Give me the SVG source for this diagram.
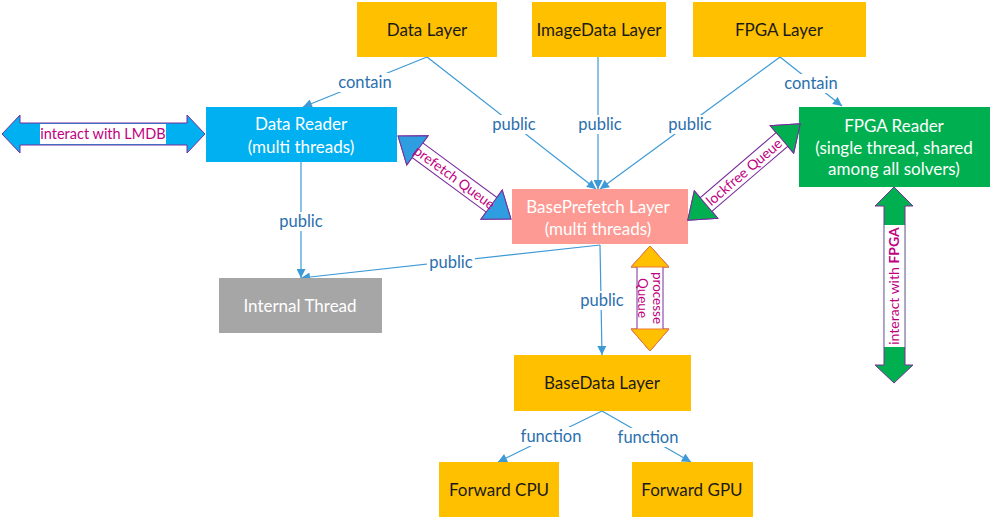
<svg xmlns="http://www.w3.org/2000/svg" width="993" height="519" viewBox="0 0 993 519">
<style>
text{font-family:Lato,"Open Sans","Liberation Sans",sans-serif}
.bt{font-size:17px;text-anchor:middle}
.dk{fill:#1a1a1a}
.wt{fill:#ffffff}
.lbl{font-size:16.5px;fill:#2a6fae;text-anchor:middle}
.lbg{fill:#ffffff}
.cn{stroke:#3d9ad6;stroke-width:1.2;fill:none}
.ba{font-size:14px;fill:#c00080;text-anchor:middle}
.sh{fill:#ffffff;stroke:#7a2d9c;stroke-width:1}
</style>
<defs>
<marker id="ah" viewBox="0 0 10 10" refX="10" refY="5" markerWidth="10" markerHeight="9" markerUnits="userSpaceOnUse" orient="auto"><path d="M0,0 L10,5 L0,10 z" fill="#3d9ad6"/></marker>
</defs>
<rect width="993" height="519" fill="#ffffff"/>

<g id="connectors">
<line class="cn" x1="427" y1="57" x2="303" y2="107" marker-end="url(#ah)"/>
<line class="cn" x1="427" y1="57" x2="596" y2="189" marker-end="url(#ah)"/>
<line class="cn" x1="598" y1="57" x2="598" y2="189" marker-end="url(#ah)"/>
<line class="cn" x1="780" y1="57" x2="600" y2="189" marker-end="url(#ah)"/>
<line class="cn" x1="780" y1="57" x2="842" y2="106" marker-end="url(#ah)"/>
<line class="cn" x1="301" y1="162" x2="301" y2="278" marker-end="url(#ah)"/>
<line class="cn" x1="600" y1="245" x2="301" y2="278" marker-end="url(#ah)"/>
<line class="cn" x1="600" y1="245" x2="602" y2="355" marker-end="url(#ah)"/>
<line class="cn" x1="602" y1="411" x2="498" y2="462" marker-end="url(#ah)"/>
<line class="cn" x1="602" y1="411" x2="691" y2="462" marker-end="url(#ah)"/>
<rect class="lbg" x="336" y="73" width="58" height="19"/><text class="lbl" x="365" y="88">contain</text>
<rect class="lbg" x="782" y="74" width="58" height="19"/><text class="lbl" x="811" y="89">contain</text>
<rect class="lbg" x="490" y="115" width="48" height="19"/><text class="lbl" x="514" y="130">public</text>
<rect class="lbg" x="576" y="115" width="48" height="19"/><text class="lbl" x="600" y="130">public</text>
<rect class="lbg" x="666" y="115" width="48" height="19"/><text class="lbl" x="690" y="130">public</text>
<rect class="lbg" x="277" y="212" width="48" height="19"/><text class="lbl" x="301" y="227">public</text>
<rect class="lbg" x="427" y="253" width="48" height="19"/><text class="lbl" x="451" y="268">public</text>
<rect class="lbg" x="578" y="291" width="48" height="19"/><text class="lbl" x="602" y="306">public</text>
<rect class="lbg" x="519" y="427" width="64" height="19"/><text class="lbl" x="551" y="442">function</text>
<rect class="lbg" x="616" y="428" width="64" height="19"/><text class="lbl" x="648" y="443">function</text>
</g>

<g id="data-layer"><rect x="357" y="2" width="140" height="55" fill="#ffc000"/><text class="bt dk" x="427" y="36">Data Layer</text></g>
<g id="imagedata-layer"><rect x="532" y="2" width="134" height="55" fill="#ffc000"/><text class="bt dk" x="599" y="36">ImageData Layer</text></g>
<g id="fpga-layer"><rect x="693" y="2" width="173" height="55" fill="#ffc000"/><text class="bt dk" x="779" y="36">FPGA Layer</text></g>
<g id="data-reader"><rect x="206" y="107" width="191" height="55" fill="#00b0f0"/><text class="bt wt" x="301" y="130">Data Reader</text><text class="bt wt" x="301" y="153">(multi threads)</text></g>
<g id="fpga-reader"><rect x="799" y="107" width="191" height="80" fill="#00b050"/><text class="bt wt" x="894" y="132">FPGA Reader</text><text class="bt wt" x="894" y="154">(single thread, shared</text><text class="bt wt" x="894" y="175">among all solvers)</text></g>
<g id="baseprefetch-layer"><rect x="512" y="189" width="176" height="55" fill="#fc9a93"/><text class="bt wt" x="598" y="213">BasePrefetch Layer</text><text class="bt wt" x="598" y="235">(multi threads)</text></g>
<g id="internal-thread"><rect x="219" y="278" width="163" height="55" fill="#a6a6a6"/><text class="bt wt" x="300" y="312">Internal Thread</text></g>
<g id="basedata-layer"><rect x="514" y="355" width="177" height="56" fill="#ffc000"/><text class="bt dk" x="602" y="389">BaseData Layer</text></g>
<g id="forward-cpu"><rect x="439" y="462" width="120" height="55" fill="#ffc000"/><text class="bt dk" x="499" y="496">Forward CPU</text></g>
<g id="forward-gpu"><rect x="632" y="462" width="121" height="55" fill="#ffc000"/><text class="bt dk" x="692" y="496">Forward GPU</text></g>

<g id="lmdb-arrow">
<polygon points="2,134 20,115 20,123 187,123 187,115 205,134 187,153 187,145 20,145 20,153" fill="#00b0f0" stroke="#7a2d9c" stroke-width="1"/>
<rect x="40" y="124" width="126" height="20" fill="#ffffff"/>
<text class="ba" x="103" y="139" style="font-size:14.5px">interact with LMDB</text>
</g>

<g id="prefetch-queue" transform="translate(454.5,177.5) rotate(36.3)">
<polygon class="sh" points="-70,0 -46,-18 -46,-9 46,-9 46,-18 70,0 46,18 46,9 -46,9 -46,18"/>
<polygon points="-70,0 -46,-18 -46,18" fill="#2e9ee0" stroke="#7a2d9c" stroke-width="1"/>
<polygon points="70,0 46,-18 46,18" fill="#2e9ee0" stroke="#7a2d9c" stroke-width="1"/>
<text class="ba" x="0" y="5">prefetch Queue</text>
</g>

<g id="lockfree-queue" transform="translate(744,172) rotate(-40.6)">
<polygon class="sh" points="-74,0 -50,-18 -50,-9 50,-9 50,-18 74,0 50,18 50,9 -50,9 -50,18"/>
<polygon points="-74,0 -50,-18 -50,18" fill="#00b050" stroke="#7a2d9c" stroke-width="1"/>
<polygon points="74,0 50,-18 50,18" fill="#00b050" stroke="#7a2d9c" stroke-width="1"/>
<text class="ba" x="0" y="5">lockfree Queue</text>
</g>

<g id="process-queue">
<polygon class="sh" points="650,246 669,267 663,267 663,329 669,329 650,351 631,329 637,329 637,267 631,267"/>
<polygon points="650,246 669,267 631,267" fill="#ffc000" stroke="#ed7d31" stroke-width="1"/>
<polygon points="650,351 669,329 631,329" fill="#ffc000" stroke="#ed7d31" stroke-width="1"/>
<g transform="translate(650,298) rotate(90)">
<text class="ba" x="0" y="-3" style="font-size:13.5px">processe</text>
<text class="ba" x="0" y="12" style="font-size:13.5px">Queue</text>
</g>
</g>

<g id="fpga-arrow">
<polygon points="894,187 913,206 905,206 905,365 913,365 894,383 875,365 884,365 884,206 875,206" fill="#00b050" stroke="#7a2d9c" stroke-width="1"/>
<rect x="884.5" y="225" width="20" height="122" fill="#ffffff"/>
<text class="ba" transform="translate(899,286) rotate(-90)" x="0" y="0">interact with <tspan font-weight="bold">FPGA</tspan></text>
</g>
</svg>
